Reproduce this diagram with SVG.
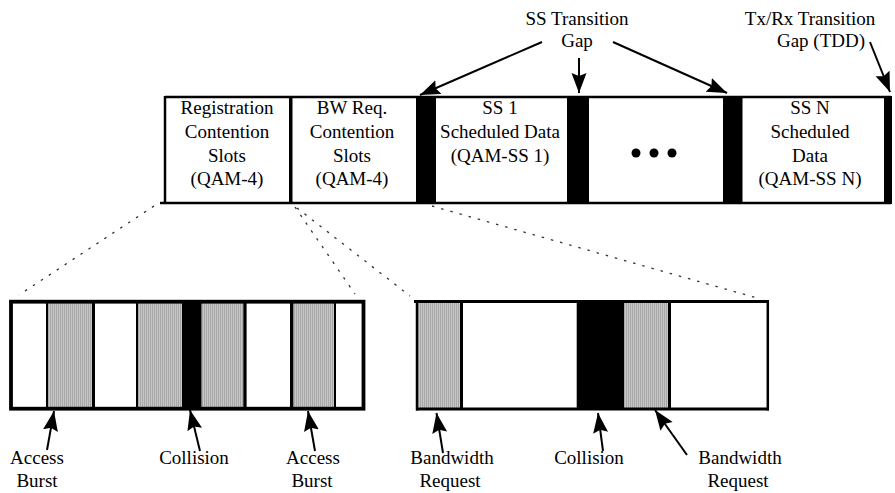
<svg xmlns="http://www.w3.org/2000/svg" width="895" height="493" viewBox="0 0 895 493">
  <defs>
    <pattern id="hatch" patternUnits="userSpaceOnUse" width="2" height="4">
      <rect width="2" height="4" fill="#c6c6c6"/>
      <rect width="1" height="4" fill="#a9a9a9"/>
    </pattern>
    <marker id="ah" markerUnits="userSpaceOnUse" markerWidth="22" markerHeight="16" refX="20" refY="7.5" orient="auto">
      <path d="M0,0 L20,7.5 L0,15 L3,7.5 z" fill="#000"/>
    </marker>
  </defs>
  <style>
    text { font-family: "Liberation Serif", "Times New Roman", serif; font-size: 19px; fill: #000; text-anchor: middle; }
    .bar { fill: #000; }
    .grey { fill: url(#hatch); }
    .arrow { stroke: #000; stroke-width: 2; fill: none; marker-end: url(#ah); }
    .dot { stroke: #333; stroke-width: 1.3; fill: none; stroke-dasharray: 2.5 7; }
  </style>
  <rect width="895" height="493" fill="#fff"/>

  <!-- top frame -->
  <g id="frame">
    <line x1="165" y1="97" x2="891" y2="97" stroke="#000" stroke-width="2.5"/>
    <line x1="160" y1="203" x2="891" y2="203" stroke="#000" stroke-width="2.5"/>
    <line x1="165" y1="96" x2="165" y2="204" stroke="#000" stroke-width="2.5"/>
  </g>
  <g id="registration">
    <text x="227" y="114">Registration</text>
    <text x="227" y="138">Contention</text>
    <text x="227" y="162">Slots</text>
    <text x="227" y="185">(QAM-4)</text>
  </g>
  <g id="bwreq">
    <rect x="289" y="96" width="3.5" height="108" class="bar"/>
    <text x="352" y="114">BW Req.</text>
    <text x="352" y="138">Contention</text>
    <text x="352" y="162">Slots</text>
    <text x="352" y="185">(QAM-4)</text>
  </g>
  <g id="gap1"><rect x="416" y="96" width="20" height="108" class="bar"/></g>
  <g id="ss1">
    <text x="500" y="114">SS 1</text>
    <text x="500" y="138">Scheduled Data</text>
    <text x="500" y="162">(QAM-SS 1)</text>
  </g>
  <g id="gap2"><rect x="567" y="96" width="22" height="108" class="bar"/></g>
  <g id="ellipsis">
    <circle cx="636" cy="153" r="4.5" fill="#000"/>
    <circle cx="654" cy="153" r="4.5" fill="#000"/>
    <circle cx="672" cy="153" r="4.5" fill="#000"/>
  </g>
  <g id="gap3"><rect x="723" y="96" width="19.5" height="108" class="bar"/></g>
  <g id="ssn">
    <text x="810" y="114">SS N</text>
    <text x="810" y="138">Scheduled</text>
    <text x="810" y="162">Data</text>
    <text x="810" y="185">(QAM-SS N)</text>
  </g>
  <g id="gap-tdd"><rect x="884" y="96" width="8" height="108" class="bar"/></g>

  <!-- top labels -->
  <g id="ss-transition-label">
    <text x="577" y="25">SS Transition</text>
    <text x="577" y="47">Gap</text>
  </g>
  <g id="txrx-label">
    <text x="810" y="25">Tx/Rx Transition</text>
    <text x="821" y="47">Gap (TDD)</text>
  </g>

  <!-- bottom left box: registration contention slots -->
  <g id="reg-slots">
    <rect x="48" y="302" width="44" height="106" class="grey"/>
    <rect x="138" y="302" width="44" height="106" class="grey"/>
    <rect x="201.5" y="302" width="42" height="106" class="grey"/>
    <rect x="293" y="302" width="41" height="106" class="grey"/>
    <rect x="46" y="302" width="2" height="106" class="bar"/>
    <rect x="92" y="302" width="3" height="106" class="bar"/>
    <rect x="136" y="302" width="2" height="106" class="bar"/>
    <rect x="182" y="302" width="19.5" height="106" class="bar"/>
    <rect x="243.3" y="302" width="3.3" height="106" class="bar"/>
    <rect x="290" y="302" width="3.3" height="106" class="bar"/>
    <rect x="334" y="302" width="2" height="106" class="bar"/>
    <rect x="11" y="301.7" width="352.5" height="107" fill="none" stroke="#000" stroke-width="3.8"/>
  </g>

  <!-- bottom right box: BW request contention slots -->
  <g id="bw-slots">
    <rect x="418" y="302" width="42" height="106" class="grey"/>
    <rect x="624" y="302" width="44" height="106" class="grey"/>
    <rect x="460" y="302" width="3" height="106" class="bar"/>
    <rect x="576.7" y="302" width="47.3" height="106" class="bar"/>
    <rect x="668" y="302" width="3" height="106" class="bar"/>
    <line x1="414" y1="301.5" x2="769" y2="301.5" stroke="#000" stroke-width="3"/>
    <line x1="416" y1="409" x2="769" y2="409" stroke="#000" stroke-width="3"/>
    <line x1="417" y1="300" x2="417" y2="410.5" stroke="#000" stroke-width="2.5"/>
    <line x1="767.8" y1="300" x2="767.8" y2="410.5" stroke="#000" stroke-width="2.5"/>
  </g>

  <!-- bottom labels -->
  <g id="label-access1"><text x="37" y="464">Access</text><text x="37" y="487">Burst</text></g>
  <g id="label-collision1"><text x="194" y="464">Collision</text></g>
  <g id="label-access2"><text x="313" y="464">Access</text><text x="312" y="487">Burst</text></g>
  <g id="label-bw1"><text x="452" y="464">Bandwidth</text><text x="450" y="487">Request</text></g>
  <g id="label-collision2"><text x="589" y="464">Collision</text></g>
  <g id="label-bw2"><text x="740" y="464">Bandwidth</text><text x="738" y="487">Request</text></g>

  <!-- connectors -->
  <g id="connectors">
    <line class="arrow" x1="542" y1="42" x2="420" y2="95"/>
    <line class="arrow" x1="579" y1="58" x2="579" y2="93"/>
    <line class="arrow" x1="613" y1="42" x2="727" y2="93"/>
    <line class="arrow" x1="870" y1="42" x2="890" y2="92"/>

    <line class="arrow" x1="47" y1="450" x2="54" y2="411"/>
    <line class="arrow" x1="200" y1="451" x2="190" y2="410"/>
    <line class="arrow" x1="315" y1="451" x2="308" y2="411"/>
    <line class="arrow" x1="443" y1="453" x2="436.5" y2="413"/>
    <line class="arrow" x1="603" y1="451" x2="598" y2="413"/>
    <line class="arrow" x1="687" y1="455" x2="655" y2="410"/>

    <line class="dot" x1="154" y1="206" x2="19" y2="295"/>
    <line class="dot" x1="295" y1="207" x2="355" y2="294"/>
    <line class="dot" x1="297" y1="208" x2="410" y2="296"/>
    <line class="dot" x1="432" y1="206" x2="757" y2="298"/>
  </g>
</svg>
